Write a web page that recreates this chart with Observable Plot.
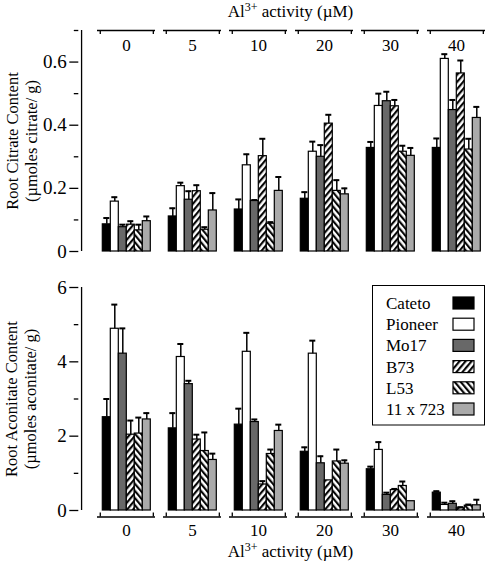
<!DOCTYPE html>
<html>
<head>
<meta charset="utf-8">
<script src="https://cdn.jsdelivr.net/npm/d3@7"></script>
<script src="https://cdn.jsdelivr.net/npm/@observablehq/plot@0.6"></script>
<style>
  html, body { margin: 0; padding: 0; background: #fff; }
  #chart { position: relative; width: 487px; height: 563px; font-family: "Liberation Serif", "Times New Roman", serif; color: #000; overflow: hidden; }
  .ytitle { position: absolute; width: 240px; height: 38px; text-align: center; font-size: 16.5px; line-height: 19px; transform: rotate(-90deg); white-space: nowrap; }
  .xtitle { position: absolute; width: 200px; text-align: center; font-size: 17px; line-height: 18px; white-space: nowrap; }
  .xtitle sup { font-size: 12px; line-height: 0; vertical-align: 0.5em; }
</style>
</head>
<body>
<svg width="0" height="0" style="position:absolute">
  <defs>
    <pattern id="hatchB73" patternUnits="userSpaceOnUse" width="4.6" height="4.6" patternTransform="rotate(40)">
      <rect width="4.6" height="4.6" fill="#fff"></rect>
      <line x1="1.1" y1="0" x2="1.1" y2="4.6" stroke="#000" stroke-width="2.1"></line>
    </pattern>
    <pattern id="hatchL53" patternUnits="userSpaceOnUse" width="4.6" height="4.6" patternTransform="rotate(-40)">
      <rect width="4.6" height="4.6" fill="#fff"></rect>
      <line x1="1.1" y1="0" x2="1.1" y2="4.6" stroke="#000" stroke-width="2.1"></line>
    </pattern>
  </defs>
</svg>
<div id="chart"></div>
<script>
// ---------- data ----------
const groups = [0, 5, 10, 20, 30, 40];                 // Al3+ activity (µM)
const cultivars = ["Cateto", "Pioneer", "Mo17", "B73", "L53", "11 x 723"];
const fills = ["#000000", "#ffffff", "#686868", "url(#hatchB73)", "url(#hatchL53)", "#aaaaaa"];

// Root citrate content (µmoles citrate / g); rows = cultivars, columns = groups
const citrateMeans = [
  [0.086, 0.111, 0.133, 0.167, 0.328, 0.328],
  [0.158, 0.207, 0.273, 0.316, 0.461, 0.610],
  [0.077, 0.164, 0.160, 0.300, 0.476, 0.448],
  [0.085, 0.191, 0.302, 0.405, 0.460, 0.564],
  [0.067, 0.069, 0.088, 0.192, 0.316, 0.323],
  [0.096, 0.130, 0.192, 0.181, 0.303, 0.423]
];
const citrateErrors = [
  [0.020, 0.026, 0.032, 0.021, 0.019, 0.030],
  [0.014, 0.011, 0.035, 0.032, 0.039, 0.015],
  [0.008, 0.027, 0.003, 0.037, 0.030, 0.032],
  [0.011, 0.019, 0.055, 0.028, 0.020, 0.041],
  [0.018, 0.008, 0.005, 0.034, 0.019, 0.034],
  [0.015, 0.055, 0.044, 0.019, 0.025, 0.035]
];

// Root aconitate content (µmoles aconitate / g)
const aconitateMeans = [
  [2.51, 2.21, 2.31, 1.58, 1.11, 0.48],
  [4.89, 4.13, 4.27, 4.22, 1.63, 0.15],
  [4.22, 3.40, 2.38, 1.27, 0.42, 0.18],
  [2.04, 1.91, 0.70, 0.81, 0.55, 0.06],
  [2.07, 1.60, 1.52, 1.32, 0.66, 0.13],
  [2.45, 1.36, 2.14, 1.26, 0.25, 0.14]
];
const aconitateErrors = [
  [0.49, 0.41, 0.43, 0.12, 0.07, 0.04],
  [0.65, 0.35, 0.51, 0.35, 0.21, 0.06],
  [0.68, 0.09, 0.07, 0.19, 0.06, 0.07],
  [0.38, 0.13, 0.09, 0.00, 0.03, 0.03],
  [0.43, 0.50, 0.12, 0.32, 0.12, 0.03],
  [0.17, 0.17, 0.17, 0.09, 0.00, 0.15]
];

const citrateMajor = [0, 0.2, 0.4, 0.6];
const citrateMinor = [0.1, 0.3, 0.5, 0.7];
const aconitateMajor = [0, 2, 4, 6];
const aconitateMinor = [1, 3, 5];

// ---------- layout ----------
const FONT = '"Liberation Serif", "Times New Roman", serif';
const W = 487, ML = 96.7, MR = 2.5, PAD = 0.186, AXIS_X = 76;
const fxBand = (W - ML - MR) * (1 - PAD) / (groups.length - PAD);
const bw = fxBand / cultivars.length;

function rowsOf(means, errs) {
  return cultivars.flatMap((c, i) => groups.map((g, j) => ({cultivar: c, group: g, mean: means[i][j], err: errs[i][j]})));
}

function panel(o) {
  const data = rowsOf(o.means, o.errs);
  const withErr = data.filter(d => d.err > 0);
  const k = (o.height - o.marginTop - o.marginBottom) / o.yMax;
  const bracketY = o.bracketPx == null ? o.yMax : -o.bracketPx / k;
  const tickEnd = o.bracketPx == null ? o.yMax - 4 / k : -(o.bracketPx - 4) / k;
  const lineW = 1.3;
  return Plot.plot({
    width: W, height: o.height,
    marginLeft: ML, marginRight: MR, marginTop: o.marginTop, marginBottom: o.marginBottom,
    style: {fontFamily: FONT, fontSize: "17px", background: "white", color: "black", overflow: "visible"},
    facet: {marginTop: 0, marginRight: 0, marginBottom: 0, marginLeft: 0},
    fx: {domain: groups, paddingInner: PAD, paddingOuter: 0, axis: null, label: null},
    x: {domain: cultivars, padding: 0, axis: null, label: null},
    y: {domain: [0, o.yMax], label: null},
    color: {type: "ordinal", domain: cultivars, range: fills},
    marks: [
      Plot.barY(data, {fx: "group", x: "cultivar", y: "mean", fill: "cultivar", stroke: "black", strokeWidth: 1.2}),
      Plot.ruleX(withErr, {fx: "group", x: "cultivar", y1: "mean", y2: d => d.mean + d.err, stroke: "black", strokeWidth: 1.5}),
      Plot.tickY(withErr, {fx: "group", x: "cultivar", y: d => d.mean + d.err, stroke: "black", strokeWidth: 2, insetLeft: 1, insetRight: 1}),
      Plot.axisY({ticks: o.major, tickSize: 9, tickPadding: 3, tickFormat: o.fmt, dx: AXIS_X - ML, fontSize: 19, fontFamily: FONT, strokeWidth: lineW, label: null}),
      Plot.axisY({ticks: o.minor, tickSize: 4.5, tickFormat: () => "", dx: AXIS_X - ML, strokeWidth: lineW, label: null}),
      Plot.ruleX([groups[0]], {fx: d => d, x: () => cultivars[0], y1: () => 0, y2: () => o.yMax, dx: AXIS_X - ML - bw / 2, strokeWidth: lineW}),
      Plot.ruleY(groups, {fx: d => d, y: () => bracketY, insetLeft: -2, insetRight: -2, strokeWidth: lineW}),
      Plot.ruleX(groups, {fx: d => d, x: () => cultivars[0], y1: () => bracketY, y2: () => tickEnd, dx: -(bw / 2 + 2), strokeWidth: lineW}),
      Plot.ruleX(groups, {fx: d => d, x: () => cultivars[cultivars.length - 1], y1: () => bracketY, y2: () => tickEnd, dx: bw / 2 + 2, strokeWidth: lineW}),
      Plot.text(groups, {fx: d => d, text: d => String(d), frameAnchor: o.labelAnchor, lineAnchor: "middle", dy: o.labelDy, fontSize: 17, fontFamily: FONT})
    ]
  });
}

const chart = document.getElementById("chart");

const topPlot = panel({
  means: citrateMeans, errs: citrateErrors, height: 263, marginTop: 30, marginBottom: 12, yMax: 0.7,
  major: citrateMajor, minor: citrateMinor, fmt: d => d === 0 ? "0" : d.toFixed(1),
  bracketPx: null, labelAnchor: "top", labelDy: 15
});
topPlot.style.position = "absolute"; topPlot.style.left = "0px"; topPlot.style.top = "0px";
chart.appendChild(topPlot);

const bottomPlot = panel({
  means: aconitateMeans, errs: aconitateErrors, height: 300, marginTop: 24, marginBottom: 53, yMax: 6,
  major: aconitateMajor, minor: aconitateMinor, fmt: d => String(d),
  bracketPx: 6.5, labelAnchor: "bottom", labelDy: 20
});
bottomPlot.style.position = "absolute"; bottomPlot.style.left = "0px"; bottomPlot.style.top = "263px";
chart.appendChild(bottomPlot);

// ---------- titles ----------
function addDiv(cls, html, left, topPx) {
  const d = document.createElement("div");
  d.className = cls; d.innerHTML = html;
  d.style.left = left + "px"; d.style.top = topPx + "px";
  chart.appendChild(d);
}
addDiv("xtitle", "Al<sup>3+</sup> activity (\u00b5M)", 190.5, 3);
addDiv("xtitle", "Al<sup>3+</sup> activity (\u00b5M)", 190.5, 543);
addDiv("ytitle", "Root Citrate Content<br>(\u00b5moles citrate/ g)", 21.5 - 120, 140.5 - 19);
addDiv("ytitle", "Root Aconitate Content<br>(\u00b5moles aconitate/ g)", 20.5 - 120, 398.5 - 19);

// ---------- legend ----------
const legend = d3.select(chart).append("svg")
  .attr("width", 114).attr("height", 141)
  .style("position", "absolute").style("left", "372px").style("top", "285px")
  .style("font-family", FONT).style("font-size", "17px");
legend.append("rect").attr("x", 0.5).attr("y", 0.5).attr("width", 112).attr("height", 139.5)
  .attr("fill", "white").attr("stroke", "black").attr("stroke-width", 1);
cultivars.forEach((c, i) => {
  const cy = 18 + i * 21.2;
  legend.append("text").attr("x", 14).attr("y", cy).attr("dy", "0.35em").text(c);
  legend.append("rect").attr("x", 81).attr("y", cy - 6).attr("width", 21).attr("height", 12)
    .attr("fill", fills[i]).attr("stroke", "black").attr("stroke-width", 1.2);
});
</script>
</body>
</html>
